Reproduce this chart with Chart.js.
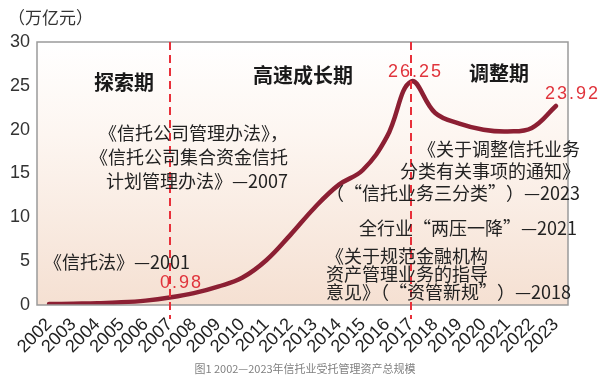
<!DOCTYPE html>
<html>
<head>
<meta charset="utf-8">
<title>信托业受托管理资产总规模</title>
<script src="https://cdn.jsdelivr.net/npm/chart.js"></script>
<style>
  html, body { margin: 0; padding: 0; background: #fff; }
  #wrap { width: 610px; height: 391px; }
</style>
</head>
<body>
<div id="wrap"><canvas id="graph" width="610" height="391"></canvas></div>
<script>
// 数据
const years = ['2002','2003','2004','2005','2006','2007','2008','2009','2010','2011','2012',
               '2013','2014','2015','2016','2017','2018','2019','2020','2021','2022','2023'];
const assets = [0.1, 0.15, 0.2, 0.3, 0.5, 0.85, 1.35, 2.1, 3.1, 5.1, 8.0,
                11.1, 13.7, 15.4, 19.2, 25.5, 21.9, 20.7, 20.0, 19.8, 20.2, 22.7];
const yTicks = [0, 5, 10, 15, 20, 25, 30];
const dividerYears = ['2007', '2017'];
const periods = ['探索期', '高速成长期', '调整期'];
const valueLabels = ['0.98', '26.25', '23.92'];
const unitLabel = '（万亿元）';
const caption = '图1 2002—2023年信托业受托管理资产总规模';

const cjk = '"Noto Sans CJK SC", "Noto Sans", sans-serif';
const latin = '"Liberation Sans", Arial, sans-serif';

// 注释文字（像素位置）
const notes = [
  { lines: ['《信托法》—2001'], x: 44, y: 262, align: 'left', size: 18 },
  { lines: ['《信托公司管理办法》，', '《信托公司集合资金信托', '计划管理办法》—2007'], x: 288, y: 133, align: 'right', size: 18, gap: 24 },
  { lines: ['《关于调整信托业务', '分类有关事项的通知》', '（“信托业务三分类”）—2023'], x: 580, y: 149, align: 'right', size: 18, gap: 22 },
  { lines: ['全行业“两压一降”—2021'], x: 577, y: 228, align: 'right', size: 18 },
  { lines: ['《关于规范金融机构', '资产管理业务的指导', '意见》（“资管新规”）—2018'], x: 326, y: 256, align: 'left', size: 18, gap: 18 }
];

const decor = {
  id: 'decor',
  beforeDraw(chart) {
    const { ctx, chartArea: a } = chart;
    const g = ctx.createLinearGradient(0, a.top, 0, a.bottom);
    g.addColorStop(0, '#ffffff');
    g.addColorStop(0.35, '#fdf6f1');
    g.addColorStop(1, '#f5e0d2');
    ctx.save();
    ctx.fillStyle = g;
    ctx.fillRect(a.left, a.top, a.right - a.left, a.bottom - a.top);
    ctx.restore();
  },
  afterDatasetsDraw(chart) {
    const { ctx, chartArea: a, scales: { x } } = chart;
    ctx.save();
    // 边框
    ctx.strokeStyle = '#9a9a9a';
    ctx.lineWidth = 1.5;
    ctx.strokeRect(a.left, a.top, a.right - a.left, a.bottom - a.top);

    // 分期虚线
    ctx.strokeStyle = '#e8303a';
    ctx.lineWidth = 2;
    ctx.setLineDash([8, 5]);
    dividerYears.forEach(yr => {
      const px = Math.round(x.getPixelForValue(years.indexOf(yr)));
      ctx.beginPath();
      ctx.moveTo(px, a.top);
      ctx.lineTo(px, a.bottom + 14);
      ctx.stroke();
    });
    ctx.setLineDash([]);

    // 阶段名称
    ctx.fillStyle = '#1a1a1a';
    ctx.textBaseline = 'middle';
    ctx.textAlign = 'center';
    ctx.font = 'bold 20px ' + cjk;
    ctx.fillText(periods[0], 124, 82);
    ctx.fillText(periods[1], 303, 75);
    ctx.fillText(periods[2], 499, 73);

    // 数值标注
    ctx.fillStyle = '#e0343c';
    ctx.font = '18px ' + latin;
    ctx.letterSpacing = '2px';
    ctx.textAlign = 'left';
    ctx.fillText(valueLabels[0], 160, 283);
    ctx.fillText(valueLabels[1], 388, 72);
    ctx.fillText(valueLabels[2], 545, 94);
    ctx.letterSpacing = '0px';

    // 文本注释
    ctx.fillStyle = '#222';
    notes.forEach(n => {
      ctx.font = n.size + 'px ' + cjk;
      ctx.textAlign = n.align;
      n.lines.forEach((t, i) => ctx.fillText(t, n.x, n.y + i * (n.gap || 22)));
    });

    // 单位
    ctx.textAlign = 'left';
    ctx.font = '17px ' + cjk;
    ctx.fillStyle = '#333';
    ctx.fillText(unitLabel, 8, 18);

    // 图题
    ctx.textAlign = 'center';
    ctx.font = '11px ' + cjk;
    ctx.fillStyle = '#808080';
    ctx.fillText(caption, 305, 369);
    ctx.restore();
  }
};

const ctx = document.getElementById('graph').getContext('2d');
new Chart(ctx, {
  type: 'line',
  data: {
    labels: years,
    datasets: [{
      data: assets,
      borderColor: '#8c1f33',
      borderWidth: 4.5,
      pointRadius: 0,
      fill: false,
      tension: 0.4,
      borderCapStyle: 'round'
    }]
  },
  options: {
    responsive: false,
    animation: false,
    layout: { padding: { top: 42, right: 42, left: 0, bottom: 0 } },
    plugins: { legend: { display: false }, tooltip: { enabled: false } },
    scales: {
      x: {
        offset: true,
        grid: { display: false, drawTicks: false },
        border: { display: false },
        ticks: {
          autoSkip: false,
          maxRotation: 45,
          minRotation: 45,
          padding: 9,
          color: '#222',
          font: { family: latin, size: 18 }
        },
        afterFit(s) { s.height = 86; }
      },
      y: {
        min: 0,
        max: 30,
        grid: { display: false, drawTicks: false },
        border: { display: false },
        afterBuildTicks(s) { s.ticks = yTicks.map(v => ({ value: v })); },
        ticks: {
          padding: 7,
          color: '#333',
          font: { family: latin, size: 18 }
        },
        afterFit(s) { s.width = 37; }
      }
    }
  },
  plugins: [decor]
});
</script>
</body>
</html>
